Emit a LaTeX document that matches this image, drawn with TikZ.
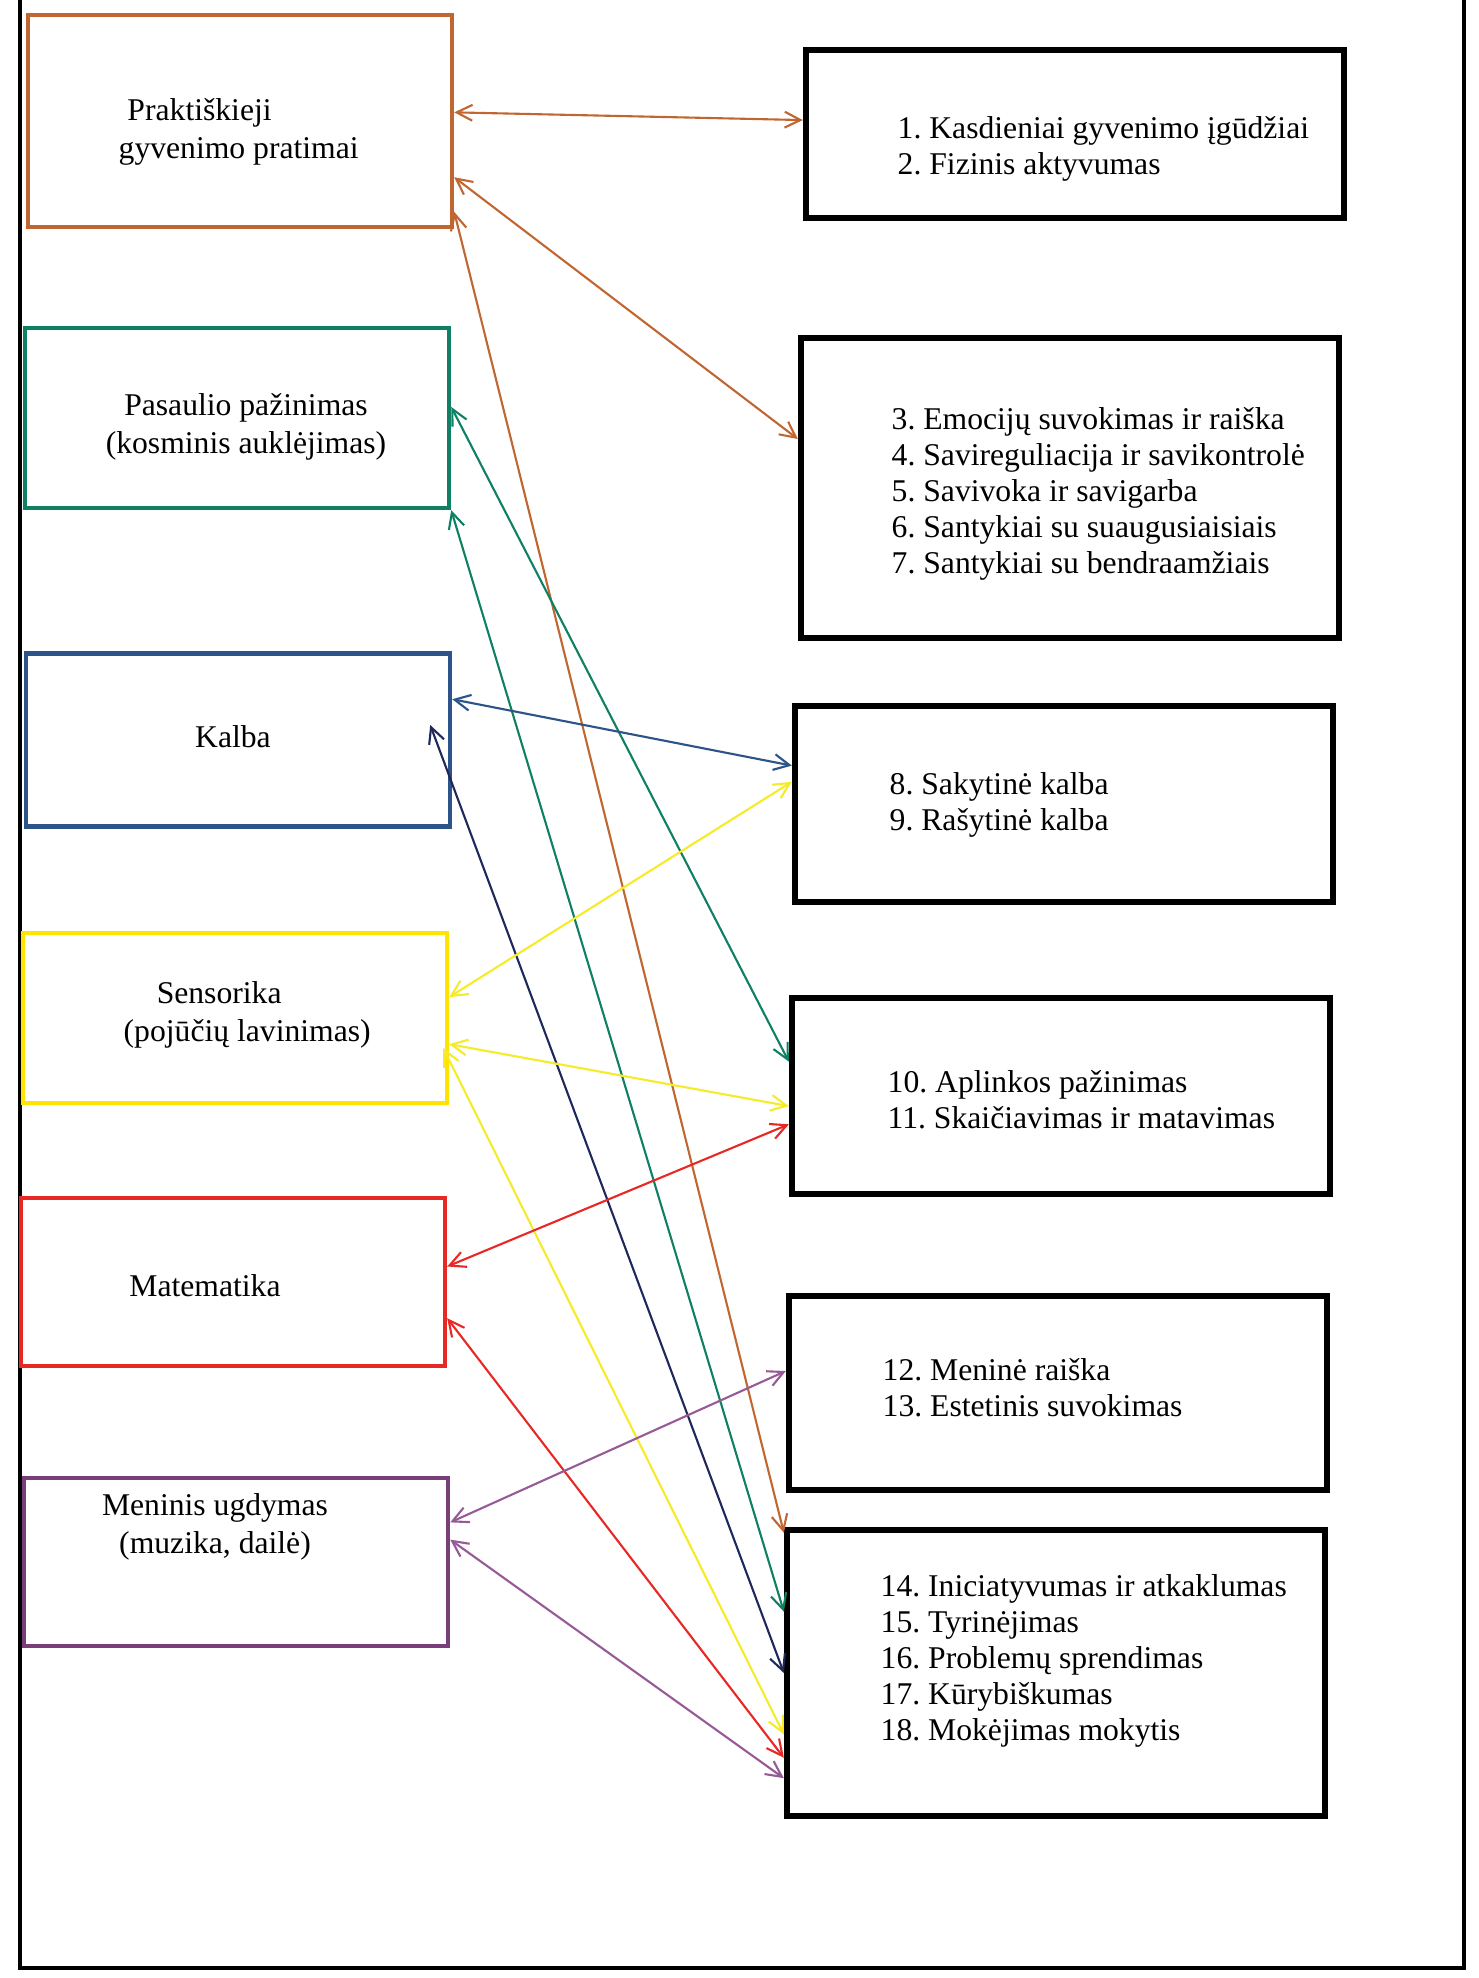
\documentclass[tikz,border=0pt]{standalone}
\usepackage{fontspec}
\setmainfont{Liberation Serif}
\usetikzlibrary{arrows.meta,calc}
\frenchspacing

\definecolor{brownline}{RGB}{192,102,48}
\definecolor{greenline}{RGB}{16,128,100}
\definecolor{blueline}{RGB}{44,84,136}
\definecolor{navyline}{RGB}{30,40,90}
\definecolor{yellowline}{RGB}{255,228,0}
\definecolor{yellowarrow}{RGB}{245,235,40}
\definecolor{redline}{RGB}{232,40,36}
\definecolor{purpleline}{RGB}{122,62,122}
\definecolor{purplearrow}{RGB}{150,90,150}

\begin{document}
\begin{tikzpicture}[x=0.01cm,y=-0.01cm,
    area/.style={draw,line width=1.2pt,minimum width=4.24cm,inner sep=0pt},
    skill/.style={draw=black,line width=1.7pt,minimum width=5.38cm,inner sep=0pt},
    areatext/.style={font=\fontsize{9}{10.8}\selectfont,inner sep=0pt},
    skilltext/.style={font=\fontsize{9}{10.2}\selectfont,align=left,anchor=west,inner sep=0pt},
    link/.style={line width=0.6pt,{Straight Barb[length=4.5pt,width=4.5pt]}-{Straight Barb[length=4.5pt,width=4.5pt]}}]
        \useasboundingbox (0,0) rectangle (1478,1978);

        % Page frame (open at the top)
        \draw[line width=1.4pt] (20,0) -- (20,1968) -- (1464,1968) -- (1464,0);

        % Areas on the left
        \node[area,draw=brownline,minimum height=2.12cm] (prak) at (240,121) {};
        \node[area,draw=greenline,minimum height=1.80cm] (pas) at (237,418) {};
        \node[area,draw=blueline,minimum height=1.73cm] (kal) at (238,740) {};
        \node[area,draw=yellowline,minimum height=1.70cm] (sen) at (235,1018) {};
        \node[area,draw=redline,minimum height=1.68cm] (mat) at (233,1282) {};
        \node[area,draw=purpleline,minimum height=1.68cm] (men) at (236,1562) {};

        \node[areatext,align=left,anchor=west] (prakt) at (118,132) {\hspace*{2.5pt}Praktiškieji\\gyvenimo pratimai};
        \node[areatext,align=center] (past) at (246,427) {Pasaulio pažinimas\\(kosminis auklėjimas)};
        \node[areatext] (kalt) at (233,737) {Kalba};
        \node[areatext,align=left,anchor=west] (sent) at (123,1015) {\hspace*{9.4pt}Sensorika\\(pojūčių lavinimas)};
        \node[areatext] (matt) at (205,1286) {Matematika};
        \node[areatext,align=center] (ment) at (215,1527) {Meninis ugdymas\\(muzika, dailė)};

        % Skills on the right
        \node[skill,minimum height=1.68cm] (ra) at (1075,134) {};
        \node[skill,minimum height=3.00cm] (rb) at (1070,488) {};
        \node[skill,minimum height=1.96cm] (rc) at (1064,804) {};
        \node[skill,minimum height=1.96cm] (rd) at (1061,1096) {};
        \node[skill,minimum height=1.94cm] (re) at (1058,1393) {};
        \node[skill,minimum height=2.86cm] (rf) at (1056,1673) {};

        \node[skilltext] (rat) at (897,149) {1. Kasdieniai gyvenimo įgūdžiai\\2. Fizinis aktyvumas};
        \node[skilltext] (rbt) at (891,494) {3. Emocijų suvokimas ir raiška\\4. Savireguliacija ir savikontrolė\\5. Savivoka ir savigarba\\6. Santykiai su suaugusiaisiais\\7. Santykiai su bendraamžiais};
        \node[skilltext] (rct) at (889,805) {8. Sakytinė kalba\\9. Rašytinė kalba};
        \node[skilltext] (rdt) at (887,1100) {10. Aplinkos pažinimas\\11. Skaičiavimas ir matavimas};
        \node[skilltext] (ret) at (882,1388) {12. Meninė raiška\\13. Estetinis suvokimas};
        \node[skilltext] (rft) at (880,1661) {14. Iniciatyvumas ir atkaklumas\\15. Tyrinėjimas\\16. Problemų sprendimas\\17. Kūrybiškumas\\18. Mokėjimas mokytis};

        % Brown links
        \draw[link,brownline] ($(prak.north east)!0.46!(prak.south east)$) -- ($(ra.north west)!0.42!(ra.south west)$);
        \draw[link,brownline] ($(prak.north east)!0.76!(prak.south east)$) -- ($(rb.north west)!0.34!(rb.south west)$);
        \draw[link,brownline] ($(prak.north east)!0.92!(prak.south east)$) -- ($(rf.north west)!0.02!(rf.south west)$);

        % Green links
        \draw[link,greenline] ($(pas.north east)!0.44!(pas.south east)$) -- ($(rd.north west)!0.33!(rd.south west)$);
        \draw[link,greenline] (pas.south east) -- ($(rf.north west)!0.29!(rf.south west)$);

        % Blue links
        \draw[link,blueline] ($(kal.north east)!0.27!(kal.south east)$) -- ($(rc.north west)!0.31!(rc.south west)$);
        \draw[link,navyline] ($(kal.east)+(-22,-15)$) -- ($(rf.north west)!0.50!(rf.south west)$);

        % Yellow links
        \draw[link,yellowarrow] ($(sen.north east)!0.38!(sen.south east)$) -- ($(rc.north west)!0.39!(rc.south west)$);
        \draw[link,yellowarrow] ($(sen.north east)!0.65!(sen.south east)$) -- ($(rd.north west)!0.55!(rd.south west)$);
        \draw[link,yellowarrow] ($(sen.east)+(-6,30)$) -- ($(rf.north west)!0.71!(rf.south west)$);

        % Red links
        \draw[link,redline] ($(mat.north east)!0.41!(mat.south east)$) -- ($(rd.north west)!0.64!(rd.south west)$);
        \draw[link,redline] ($(mat.north east)!0.71!(mat.south east)$) -- ($(rf.north west)!0.79!(rf.south west)$);

        % Purple links
        \draw[link,purplearrow] ($(men.north east)!0.27!(men.south east)$) -- ($(re.north west)!0.39!(re.south west)$);
        \draw[link,purplearrow] ($(men.north east)!0.37!(men.south east)$) -- ($(rf.north west)!0.86!(rf.south west)$);
    \end{tikzpicture}
\end{document}
